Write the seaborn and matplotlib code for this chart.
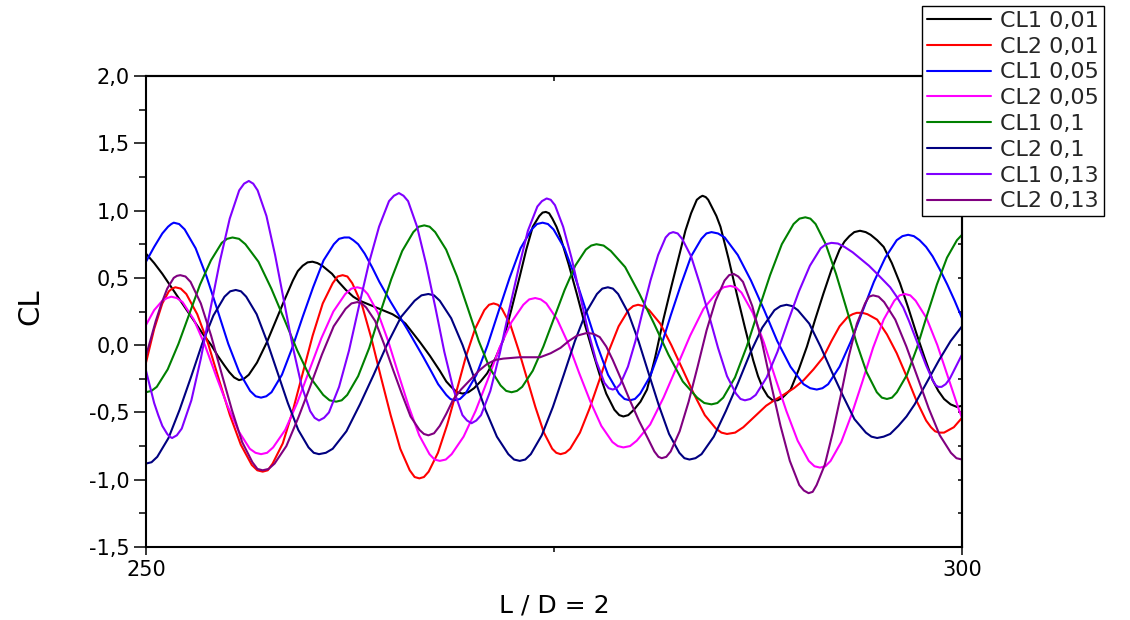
import numpy as np
import pandas as pd
import matplotlib
matplotlib.use("Agg")
import matplotlib.pyplot as plt
from matplotlib.ticker import MultipleLocator, FixedLocator
import seaborn as sns

series_names = ["CL1 0,01", "CL2 0,01", "CL1 0,05", "CL2 0,05",
                "CL1 0,1", "CL2 0,1", "CL1 0,13", "CL2 0,13"]
series_colors = ["#000000", "#FF0000", "#0000FF", "#FF00FF",
                 "#008000", "#000080", "#8000FF", "#800080"]

# (x, CL) points
cl1_001 = [(250, 0.68), (250.5, 0.61), (251, 0.53), (251.5, 0.44), (252, 0.35), (252.5, 0.26), (253, 0.17),
           (253.5, 0.08), (254, 0.00), (254.4, -0.08), (254.8, -0.15), (255.1, -0.20), (255.4, -0.24),
           (255.7, -0.26), (256.0, -0.25), (256.3, -0.22), (256.8, -0.13), (257.4, 0.02), (257.95, 0.18),
           (258.5, 0.34), (259.0, 0.48), (259.3, 0.55), (259.6, 0.59), (259.9, 0.615), (260.2, 0.62),
           (260.5, 0.61), (260.8, 0.59), (261.1, 0.56), (261.4, 0.53), (261.8, 0.47), (262.25, 0.41),
           (262.7, 0.36), (263.1, 0.33), (263.7, 0.30), (264.3, 0.27), (265.1, 0.23), (265.5, 0.20),
           (265.9, 0.16), (266.35, 0.09), (266.8, 0.02), (267.4, -0.08), (268.0, -0.19), (268.4, -0.27),
           (268.7, -0.31), (269.05, -0.35), (269.4, -0.36), (269.75, -0.35), (270.1, -0.32), (270.5, -0.27),
           (270.9, -0.21), (271.4, -0.10), (271.9, 0.04), (272.4, 0.27), (272.9, 0.51), (273.3, 0.71),
           (273.7, 0.88), (274.1, 0.96), (274.3, 0.985), (274.5, 0.99), (274.7, 0.98), (274.9, 0.94),
           (275.15, 0.88), (275.4, 0.80), (275.9, 0.60), (276.4, 0.38), (276.9, 0.15), (277.4, -0.06),
           (277.8, -0.22), (278.2, -0.36), (278.7, -0.48), (279.0, -0.52), (279.25, -0.53), (279.55, -0.52),
           (279.9, -0.48), (280.3, -0.42), (280.7, -0.33), (281.2, -0.09), (281.7, 0.19), (282.2, 0.44),
           (282.7, 0.68), (283.05, 0.85), (283.4, 0.98), (283.75, 1.08), (283.95, 1.10), (284.1, 1.11),
           (284.3, 1.10), (284.45, 1.08), (284.7, 1.02), (284.95, 0.96), (285.2, 0.88), (285.7, 0.64),
           (286.2, 0.38), (286.7, 0.13), (287.2, -0.11), (287.5, -0.23), (287.8, -0.32), (288.1, -0.38),
           (288.4, -0.41), (288.7, -0.41), (289.0, -0.39), (289.5, -0.33), (290.0, -0.18), (290.5, -0.01),
           (291.0, 0.19), (291.5, 0.38), (292.0, 0.56), (292.5, 0.71), (292.8, 0.77), (293.1, 0.81),
           (293.4, 0.84), (293.75, 0.85), (294.1, 0.84), (294.4, 0.82), (294.8, 0.78), (295.2, 0.73),
           (295.7, 0.61), (296.2, 0.46), (296.7, 0.28), (297.2, 0.09), (297.7, -0.09), (298.2, -0.26),
           (298.55, -0.34), (298.9, -0.40), (299.3, -0.44), (299.7, -0.46), (300, -0.45)]

cl2_001 = [(250, -0.13), (250.5, 0.12), (251.0, 0.31), (251.4, 0.40), (251.6, 0.42), (251.8, 0.43),
           (252.13, 0.42), (252.47, 0.38), (253.14, 0.23), (253.81, 0.01), (254.48, -0.26), (255.14, -0.52),
           (255.81, -0.74), (256.48, -0.89), (256.82, -0.93), (257.15, -0.94), (257.46, -0.93), (257.76, -0.88),
           (258.38, -0.73), (258.99, -0.49), (259.6, -0.21), (260.21, 0.07), (260.83, 0.31), (261.44, 0.46),
           (261.74, 0.51), (262.05, 0.52), (262.34, 0.51), (262.64, 0.46), (263.23, 0.30), (263.81, 0.05),
           (264.4, -0.24), (264.99, -0.52), (265.58, -0.77), (266.16, -0.93), (266.46, -0.98), (266.75, -0.99),
           (267.03, -0.98), (267.32, -0.94), (267.89, -0.80), (268.46, -0.59), (269.03, -0.34), (269.59, -0.09),
           (270.16, 0.12), (270.73, 0.26), (271.02, 0.30), (271.3, 0.31), (271.56, 0.30), (271.81, 0.27),
           (272.33, 0.15), (272.84, -0.04), (273.35, -0.25), (273.86, -0.46), (274.38, -0.65), (274.89, -0.77),
           (275.14, -0.80), (275.4, -0.81), (275.7, -0.80), (275.99, -0.77), (276.59, -0.65), (277.18, -0.47),
           (277.78, -0.26), (278.37, -0.04), (278.96, 0.14), (279.56, 0.26), (279.85, 0.29), (280.15, 0.30),
           (280.49, 0.29), (280.83, 0.26), (281.51, 0.16), (282.19, 0.00), (282.88, -0.18), (283.56, -0.36),
           (284.24, -0.52), (284.92, -0.62), (285.26, -0.65), (285.6, -0.66), (286.1, -0.65), (286.6, -0.61),
           (287.3, -0.53), (288.0, -0.45), (288.5, -0.41), (289.05, -0.37), (289.7, -0.32), (290.3, -0.26),
           (290.9, -0.18), (291.5, -0.09), (292.0, 0.03), (292.5, 0.14), (293.0, 0.21), (293.3, 0.23),
           (293.55, 0.24), (293.9, 0.24), (294.2, 0.23), (294.8, 0.19), (295.4, 0.08), (296.0, -0.06),
           (296.6, -0.23), (297.2, -0.41), (297.8, -0.56), (298.1, -0.61), (298.35, -0.64), (298.6, -0.65),
           (298.9, -0.65), (299.5, -0.61), (300, -0.54)]

cl1_005 = [(250, 0.62), (250.5, 0.73), (251.0, 0.83), (251.35, 0.88), (251.55, 0.90), (251.7, 0.91),
           (252.03, 0.90), (252.37, 0.86), (253.04, 0.72), (253.71, 0.51), (254.38, 0.26), (255.04, 0.01),
           (255.71, -0.20), (256.38, -0.34), (256.72, -0.38), (257.05, -0.39), (257.37, -0.38), (257.69, -0.35),
           (258.33, -0.22), (258.96, -0.02), (259.6, 0.21), (260.24, 0.43), (260.88, 0.63), (261.51, 0.75),
           (261.83, 0.79), (262.15, 0.80), (262.45, 0.80), (262.7, 0.78), (263.0, 0.75), (263.4, 0.68),
           (263.85, 0.58), (264.3, 0.47), (265.0, 0.32), (266.0, 0.12), (267.0, -0.09), (267.5, -0.20),
           (267.9, -0.29), (268.4, -0.37), (268.65, -0.40), (268.9, -0.41), (269.24, -0.40), (269.58, -0.36),
           (270.25, -0.22), (270.93, 0.00), (271.6, 0.25), (272.28, 0.50), (272.95, 0.72), (273.63, 0.86),
           (273.96, 0.90), (274.3, 0.91), (274.63, 0.90), (274.97, 0.86), (275.64, 0.72), (276.31, 0.50),
           (276.98, 0.25), (277.64, 0.00), (278.31, -0.22), (278.98, -0.36), (279.32, -0.40), (279.65, -0.41),
           (279.96, -0.40), (280.28, -0.36), (280.9, -0.23), (281.53, -0.02), (282.15, 0.22), (282.78, 0.45),
           (283.4, 0.66), (284.03, 0.79), (284.34, 0.83), (284.65, 0.84), (285.05, 0.83), (285.46, 0.80),
           (286.26, 0.67), (287.07, 0.48), (287.88, 0.26), (288.68, 0.03), (289.49, -0.16), (290.29, -0.29),
           (290.7, -0.32), (291.1, -0.33), (291.45, -0.32), (291.8, -0.29), (292.5, -0.16), (293.2, 0.03),
           (293.9, 0.25), (294.6, 0.47), (295.3, 0.65), (296.0, 0.78), (296.35, 0.81), (296.7, 0.82),
           (297.05, 0.81), (297.4, 0.78), (297.8, 0.73), (298.2, 0.66), (298.65, 0.56), (299.1, 0.45),
           (299.55, 0.33), (300, 0.20)]

cl2_005 = [(250, 0.15), (250.5, 0.26), (251.0, 0.33), (251.3, 0.35), (251.55, 0.36), (251.89, 0.35),
           (252.24, 0.32), (252.93, 0.19), (253.61, 0.00), (254.3, -0.23), (254.99, -0.45), (255.68, -0.64),
           (256.36, -0.77), (256.71, -0.80), (257.05, -0.81), (257.42, -0.80), (257.79, -0.76), (258.53, -0.63),
           (259.26, -0.43), (260.0, -0.19), (260.74, 0.05), (261.48, 0.25), (262.21, 0.38), (262.58, 0.42),
           (262.95, 0.43), (263.27, 0.42), (263.58, 0.38), (264.21, 0.24), (264.84, 0.03), (265.48, -0.22),
           (266.11, -0.46), (266.74, -0.67), (267.37, -0.81), (267.68, -0.85), (268.0, -0.86), (268.37, -0.85),
           (268.73, -0.81), (269.46, -0.68), (270.19, -0.49), (270.93, -0.26), (271.66, -0.02), (272.39, 0.17),
           (273.12, 0.30), (273.48, 0.34), (273.85, 0.35), (274.19, 0.34), (274.53, 0.31), (275.2, 0.19),
           (275.88, 0.01), (276.55, -0.21), (277.23, -0.42), (277.9, -0.60), (278.58, -0.72), (278.91, -0.75),
           (279.25, -0.76), (279.66, -0.75), (280.07, -0.71), (280.89, -0.59), (281.71, -0.39), (282.53, -0.16),
           (283.34, 0.07), (284.16, 0.27), (284.98, 0.39), (285.39, 0.43), (285.8, 0.44), (286.14, 0.43),
           (286.49, 0.39), (287.18, 0.24), (287.86, 0.02), (288.55, -0.24), (289.24, -0.49), (289.93, -0.71),
           (290.61, -0.86), (290.96, -0.90), (291.3, -0.91), (291.63, -0.90), (291.95, -0.86), (292.6, -0.72),
           (293.25, -0.51), (293.9, -0.27), (294.55, -0.02), (295.2, 0.19), (295.85, 0.33), (296.18, 0.37),
           (296.5, 0.38), (296.83, 0.37), (297.16, 0.33), (297.83, 0.20), (298.49, 0.00), (299.15, -0.24),
           (299.81, -0.48), (300, -0.54)]

cl1_01 = [(250, -0.35), (250.33, -0.34), (250.66, -0.31), (251.33, -0.18), (251.99, 0.01), (252.65, 0.23),
          (253.31, 0.45), (253.98, 0.63), (254.64, 0.76), (254.97, 0.79), (255.3, 0.80), (255.7, 0.79),
          (256.09, 0.75), (256.89, 0.62), (257.68, 0.42), (258.48, 0.19), (259.27, -0.04), (260.06, -0.24),
          (260.86, -0.37), (261.25, -0.41), (261.65, -0.42), (261.99, -0.41), (262.33, -0.37), (263.0, -0.23),
          (263.68, -0.02), (264.35, 0.24), (265.03, 0.49), (265.7, 0.70), (266.38, 0.84), (266.71, 0.88),
          (267.05, 0.89), (267.38, 0.88), (267.72, 0.84), (268.39, 0.71), (269.06, 0.51), (269.73, 0.27),
          (270.39, 0.03), (271.06, -0.17), (271.73, -0.30), (272.07, -0.34), (272.4, -0.35), (272.73, -0.34),
          (273.05, -0.31), (273.7, -0.19), (274.35, -0.01), (275.0, 0.20), (275.65, 0.41), (276.3, 0.59),
          (276.95, 0.71), (277.28, 0.74), (277.6, 0.75), (278.04, 0.74), (278.48, 0.70), (279.36, 0.58),
          (280.24, 0.38), (281.13, 0.16), (282.01, -0.07), (282.89, -0.27), (283.77, -0.39), (284.21, -0.43),
          (284.65, -0.44), (285.01, -0.43), (285.37, -0.39), (286.09, -0.24), (286.81, -0.01), (287.53, 0.26),
          (288.24, 0.52), (288.96, 0.75), (289.68, 0.90), (290.04, 0.94), (290.4, 0.95), (290.71, 0.94),
          (291.03, 0.90), (291.65, 0.75), (292.28, 0.53), (292.9, 0.28), (293.53, 0.02), (294.15, -0.20),
          (294.78, -0.35), (295.09, -0.39), (295.4, -0.40), (295.71, -0.39), (296.01, -0.35), (296.63, -0.22),
          (297.24, -0.02), (297.85, 0.22), (298.46, 0.45), (299.08, 0.65), (299.69, 0.78), (300, 0.82)]

cl2_01 = [(250, -0.88), (250.34, -0.87), (250.69, -0.83), (251.38, -0.69), (252.06, -0.48), (252.75, -0.24),
          (253.44, 0.01), (254.13, 0.22), (254.81, 0.36), (255.16, 0.40), (255.5, 0.41), (255.82, 0.40),
          (256.14, 0.36), (256.78, 0.23), (257.41, 0.03), (258.05, -0.20), (258.69, -0.43), (259.33, -0.63),
          (259.96, -0.76), (260.28, -0.80), (260.6, -0.81), (261.02, -0.80), (261.44, -0.77), (262.28, -0.64),
          (263.11, -0.44), (263.95, -0.22), (264.79, 0.01), (265.63, 0.21), (266.46, 0.33), (266.88, 0.37),
          (267.3, 0.38), (267.65, 0.37), (268.0, 0.33), (268.7, 0.20), (269.4, 0.00), (270.1, -0.24),
          (270.8, -0.48), (271.5, -0.68), (272.2, -0.81), (272.55, -0.85), (272.9, -0.86), (273.24, -0.85),
          (273.58, -0.81), (274.25, -0.67), (274.93, -0.46), (275.6, -0.22), (276.28, 0.03), (276.95, 0.24),
          (277.63, 0.38), (277.96, 0.42), (278.3, 0.43), (278.61, 0.42), (278.93, 0.38), (279.55, 0.24),
          (280.18, 0.03), (280.8, -0.21), (281.43, -0.45), (282.05, -0.66), (282.68, -0.80), (282.99, -0.84),
          (283.3, -0.85), (283.67, -0.84), (284.04, -0.81), (284.79, -0.68), (285.53, -0.49), (286.28, -0.28),
          (287.02, -0.06), (287.76, 0.13), (288.51, 0.26), (288.88, 0.29), (289.25, 0.30), (289.6, 0.29),
          (289.94, 0.26), (290.64, 0.16), (291.33, -0.01), (292.03, -0.20), (292.72, -0.38), (293.41, -0.55),
          (294.11, -0.65), (294.45, -0.68), (294.8, -0.69), (295.2, -0.68), (295.6, -0.66), (296.1, -0.60),
          (296.6, -0.53), (297.1, -0.44), (297.6, -0.33), (298.1, -0.22), (298.6, -0.11), (299.3, 0.03),
          (300, 0.14)]

cl1_013 = [(250, -0.19), (250.25, -0.31), (250.5, -0.43), (250.75, -0.52), (251.0, -0.60), (251.3, -0.66),
           (251.45, -0.68), (251.6, -0.69), (251.89, -0.67), (252.19, -0.62), (252.78, -0.41), (253.36, -0.10),
           (253.95, 0.27), (254.54, 0.63), (255.13, 0.94), (255.71, 1.15), (256.01, 1.20), (256.3, 1.22),
           (256.57, 1.20), (256.84, 1.15), (257.38, 0.96), (257.91, 0.67), (258.45, 0.33), (258.99, -0.01),
           (259.53, -0.30), (260.06, -0.49), (260.33, -0.54), (260.6, -0.56), (260.91, -0.54), (261.21, -0.50),
           (261.83, -0.31), (262.44, -0.04), (263.05, 0.29), (263.66, 0.61), (264.28, 0.88), (264.89, 1.07),
           (265.19, 1.11), (265.5, 1.13), (265.78, 1.11), (266.06, 1.07), (266.61, 0.88), (267.17, 0.60),
           (267.73, 0.28), (268.28, -0.05), (268.84, -0.33), (269.39, -0.52), (269.67, -0.56), (269.95, -0.58),
           (270.24, -0.56), (270.53, -0.52), (271.1, -0.34), (271.68, -0.06), (272.25, 0.26), (272.83, 0.57),
           (273.4, 0.85), (273.98, 1.03), (274.26, 1.07), (274.55, 1.09), (274.8, 1.08), (275.06, 1.04),
           (275.56, 0.88), (276.07, 0.65), (276.58, 0.38), (277.08, 0.11), (277.59, -0.12), (278.09, -0.28),
           (278.35, -0.32), (278.6, -0.33), (278.83, -0.32), (279.06, -0.29), (279.53, -0.16), (279.99, 0.03),
           (280.45, 0.26), (280.91, 0.48), (281.38, 0.67), (281.84, 0.80), (282.07, 0.83), (282.3, 0.84),
           (282.58, 0.83), (282.85, 0.79), (283.4, 0.66), (283.95, 0.45), (284.5, 0.22), (285.05, -0.02),
           (285.6, -0.23), (286.15, -0.36), (286.43, -0.40), (286.7, -0.41), (287.03, -0.40), (287.36, -0.37),
           (288.03, -0.24), (288.69, -0.05), (289.35, 0.18), (290.01, 0.40), (290.68, 0.59), (291.34, 0.72),
           (291.67, 0.75), (292.0, 0.76), (292.4, 0.755), (292.8, 0.73), (293.3, 0.69), (293.8, 0.64),
           (294.3, 0.59), (294.8, 0.53), (295.2, 0.48), (295.6, 0.43), (296.0, 0.36), (296.4, 0.28),
           (296.75, 0.18), (297.1, 0.07), (297.45, -0.04), (297.8, -0.15), (298.2, -0.26), (298.4, -0.30),
           (298.55, -0.31), (298.75, -0.31), (299.0, -0.29), (299.25, -0.25), (299.5, -0.19), (299.75, -0.13),
           (300, -0.07)]

cl2_013 = [(250, -0.08), (250.3, 0.05), (250.6, 0.18), (250.95, 0.31), (251.3, 0.42), (251.7, 0.50),
           (251.9, 0.515), (252.1, 0.52), (252.42, 0.51), (252.73, 0.47), (253.36, 0.31), (253.99, 0.07),
           (254.63, -0.21), (255.26, -0.48), (255.89, -0.72), (256.52, -0.87), (256.83, -0.92), (257.15, -0.93),
           (257.51, -0.92), (257.88, -0.88), (258.6, -0.75), (259.33, -0.54), (260.05, -0.31), (260.78, -0.07),
           (261.5, 0.14), (262.23, 0.27), (262.59, 0.31), (262.95, 0.32), (263.22, 0.31), (263.49, 0.28),
           (264.04, 0.18), (264.58, 0.01), (265.13, -0.18), (265.67, -0.36), (266.21, -0.53), (266.76, -0.63),
           (267.03, -0.66), (267.3, -0.67), (267.65, -0.655), (268.0, -0.60), (268.4, -0.51), (268.8, -0.41),
           (269.3, -0.33), (269.85, -0.26), (270.4, -0.19), (270.9, -0.14), (271.4, -0.11), (271.9, -0.10),
           (272.9, -0.09), (274.15, -0.09), (274.8, -0.06), (275.4, -0.02), (275.9, 0.03), (276.4, 0.07),
           (277.0, 0.09), (277.4, 0.085), (277.8, 0.06), (278.2, -0.01), (278.6, -0.11), (279.1, -0.25),
           (279.65, -0.41), (280.2, -0.56), (280.7, -0.68), (281.15, -0.79), (281.4, -0.83), (281.6, -0.84),
           (281.88, -0.83), (282.15, -0.79), (282.7, -0.64), (283.25, -0.42), (283.8, -0.16), (284.35, 0.11),
           (284.9, 0.33), (285.45, 0.48), (285.73, 0.52), (286.0, 0.53), (286.29, 0.51), (286.58, 0.47),
           (287.15, 0.29), (287.73, 0.03), (288.3, -0.29), (288.88, -0.60), (289.45, -0.86), (290.03, -1.04),
           (290.31, -1.08), (290.6, -1.10), (290.85, -1.09), (291.09, -1.04), (291.59, -0.89), (292.08, -0.65),
           (292.58, -0.37), (293.07, -0.08), (293.56, 0.16), (294.06, 0.31), (294.3, 0.36), (294.55, 0.37),
           (294.89, 0.36), (295.23, 0.32), (295.91, 0.19), (296.59, -0.01), (297.28, -0.24), (297.96, -0.47),
           (298.64, -0.67), (299.32, -0.80), (299.66, -0.84), (300, -0.85)]

all_series = [cl1_001, cl2_001, cl1_005, cl2_005, cl1_01, cl2_01, cl1_013, cl2_013]

x_ticks = [250, 300]
x_ticklabels = ["250", "300"]
x_minor_ticks = [275]
y_ticks = [-1.5, -1.0, -0.5, 0.0, 0.5, 1.0, 1.5, 2.0]
y_ticklabels = ["-1,5", "-1,0", "-0,5", "0,0", "0,5", "1,0", "1,5", "2,0"]
x_label = "L / D = 2"
y_label = "CL"

sns.set_theme(style="white")
plt.rcParams["font.family"] = ["DejaVu Sans"]

frames = []
for name, pts in zip(series_names, all_series):
    arr = np.array(pts, dtype=float)
    frames.append(pd.DataFrame({"x": arr[:, 0], "y": arr[:, 1], "series": name}))
df = pd.concat(frames, ignore_index=True)

W, H = 1130, 620
fig = plt.figure(figsize=(W / 100, H / 100), dpi=100)
ax = fig.add_axes([146 / W, 1 - 547 / H, (962 - 146) / W, (547 - 76) / H])

sns.lineplot(data=df, x="x", y="y", hue="series", hue_order=series_names,
             palette=series_colors, estimator=None, sort=False, linewidth=1.5, ax=ax)

ax.set_xlim(250, 300)
ax.set_ylim(-1.5, 2.0)

ax.set_xticks(x_ticks)
ax.set_xticklabels(x_ticklabels)
ax.xaxis.set_minor_locator(FixedLocator(x_minor_ticks))
ax.set_yticks(y_ticks)
ax.set_yticklabels(y_ticklabels)
ax.yaxis.set_minor_locator(MultipleLocator(0.25))

ax.tick_params(axis="y", which="major", direction="out", length=8.5, width=1.1,
               labelsize=15, pad=3.5, left=True, right=False, colors="black")
ax.tick_params(axis="y", which="minor", direction="out", length=4.8, width=1.1,
               left=True, right=False, colors="black")
ax.tick_params(axis="x", which="major", direction="inout", length=12, width=1.1,
               labelsize=15, pad=3.0, bottom=True, top=False, colors="black")
ax.tick_params(axis="x", which="minor", direction="out", length=3.5, width=1.1,
               bottom=True, top=False, colors="black")

for s in ax.spines.values():
    s.set_visible(True)
    s.set_color("black")
    s.set_linewidth(1.5)

secy = ax.secondary_yaxis("right")
secy.yaxis.set_major_locator(MultipleLocator(0.25))
secy.tick_params(axis="y", direction="in", length=3.2, width=1.1, right=True,
                 labelright=False, colors="black")
secy.spines["right"].set_linewidth(1.5)
secy.spines["right"].set_color("black")

secx = ax.secondary_xaxis("top")
secx.xaxis.set_major_locator(FixedLocator(x_minor_ticks))
secx.tick_params(axis="x", direction="in", length=3.5, width=1.1, top=True,
                 labeltop=False, colors="black")
secx.spines["top"].set_linewidth(1.5)
secx.spines["top"].set_color("black")

ax.set_xlabel(x_label, fontsize=18, color="black")
ax.set_ylabel(y_label, fontsize=21, color="black")
ax.xaxis.set_label_coords(0.5, -0.098)
ax.yaxis.set_label_coords(-0.124, 0.51)

handles, labels = ax.get_legend_handles_labels()
leg = ax.legend(handles, labels, loc="upper left",
                bbox_to_anchor=(922 / W, 1 - 6 / H), bbox_transform=fig.transFigure,
                borderaxespad=0, frameon=True, fancybox=False, shadow=False,
                edgecolor="black", framealpha=1, fontsize=16,
                handlelength=2.9, handletextpad=0.4, labelspacing=0.26, borderpad=0.22)
leg.get_frame().set_linewidth(1.0)
for line in leg.get_lines():
    line.set_linewidth(1.5)

fig.savefig("out.png", dpi=100)
